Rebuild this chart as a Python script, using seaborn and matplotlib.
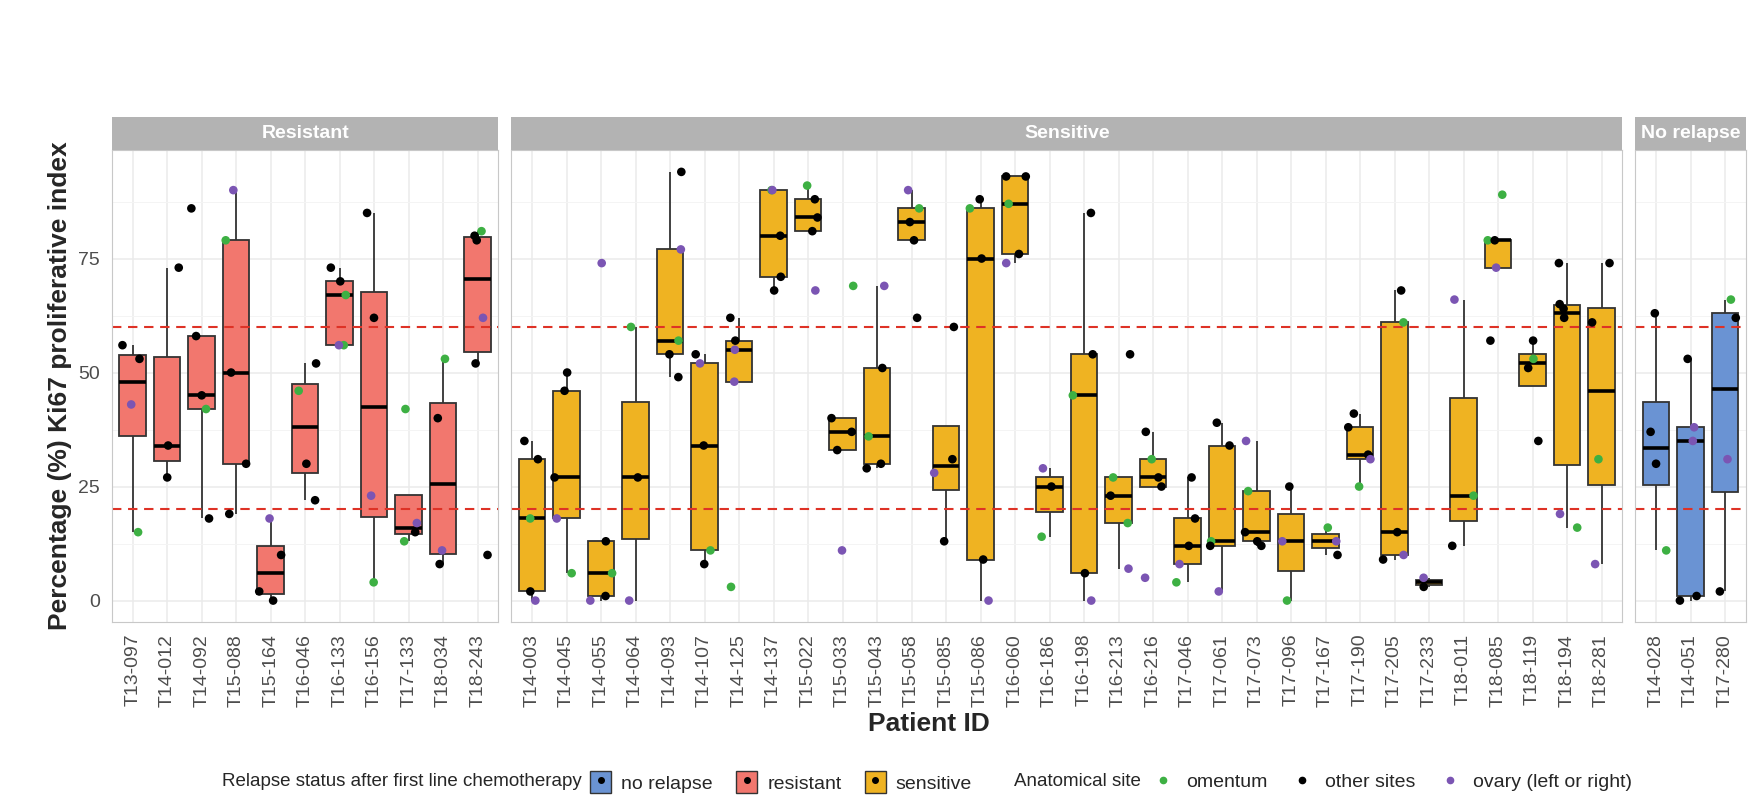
import numpy as np
import pandas as pd
import seaborn as sns
import matplotlib.pyplot as plt
from matplotlib.patches import Patch
from matplotlib.lines import Line2D

# Ki67 values per patient, one list of points per patient
resistant_ids = ["T13-097", "T14-012", "T14-092", "T15-088", "T15-164", "T16-046",
                 "T16-133", "T16-156", "T17-133", "T18-034", "T18-243"]
resistant_values = [[56, 53, 43, 15], [73, 34, 27], [86, 58, 45, 42, 18], [90, 79, 50, 30, 19],
                    [18, 10, 2, 0], [52, 46, 30, 22], [73, 70, 67, 56, 56], [85, 62, 23, 4],
                    [42, 17, 15, 13], [53, 40, 11, 8], [81, 80, 79, 62, 52, 10]]
resistant_sites = [["ot", "ot", "ov", "om"], ["ot", "ot", "ot"], ["ot", "ot", "ot", "om", "ot"],
                   ["ov", "om", "ot", "ot", "ot"], ["ov", "ot", "ot", "ot"], ["ot", "om", "ot", "ot"],
                   ["ot", "ot", "om", "om", "ov"], ["ot", "ot", "ov", "om"], ["om", "ov", "ot", "om"],
                   ["om", "ot", "ov", "ot"], ["om", "ot", "ot", "ov", "ot", "ot"]]

sensitive_ids = ["T14-003", "T14-045", "T14-055", "T14-064", "T14-093", "T14-107", "T14-125",
                 "T14-137", "T15-022", "T15-033", "T15-043", "T15-058", "T15-085", "T15-086",
                 "T16-060", "T16-186", "T16-198", "T16-213", "T16-216", "T17-046", "T17-061",
                 "T17-073", "T17-096", "T17-167", "T17-190", "T17-205", "T17-233", "T18-011",
                 "T18-085", "T18-119", "T18-194", "T18-281"]
sensitive_values = [[35, 31, 18, 2, 0], [50, 46, 27, 18, 6], [74, 13, 6, 1, 0], [60, 27, 0],
                    [94, 77, 57, 54, 49], [54, 52, 34, 11, 8], [62, 57, 55, 48, 3],
                    [90, 90, 80, 71, 68], [91, 88, 84, 81, 68], [69, 40, 37, 33, 11],
                    [69, 51, 36, 30, 29], [90, 86, 83, 79, 62], [60, 31, 28, 13],
                    [88, 86, 75, 9, 0], [93, 93, 87, 76, 74], [29, 25, 14], [85, 54, 45, 6, 0],
                    [54, 27, 23, 17, 7], [37, 31, 27, 25, 5], [27, 18, 12, 8, 4],
                    [39, 34, 13, 12, 2], [35, 24, 15, 13, 12], [25, 13, 0], [16, 13, 10],
                    [41, 38, 32, 31, 25], [68, 61, 15, 10, 9], [5, 3], [66, 23, 12],
                    [89, 79, 79, 73, 57], [57, 53, 51, 35], [74, 65, 64, 62, 19, 16],
                    [74, 61, 31, 8]]
sensitive_sites = [["ot", "ot", "om", "ot", "ov"], ["ot", "ot", "ot", "ov", "om"],
                   ["ov", "ot", "om", "ot", "ov"], ["om", "ot", "ov"],
                   ["ot", "ov", "om", "ot", "ot"], ["ot", "ov", "ot", "om", "ot"],
                   ["ot", "ot", "ov", "ov", "om"], ["om", "ov", "ot", "ot", "ot"],
                   ["om", "ot", "ot", "ot", "ov"], ["om", "ot", "ot", "ot", "ov"],
                   ["ov", "ot", "om", "ot", "ot"], ["ov", "om", "ot", "ot", "ot"],
                   ["ot", "ot", "ov", "ot"], ["ot", "om", "ot", "ot", "ov"],
                   ["ot", "ot", "om", "ot", "ov"], ["ov", "ot", "om"],
                   ["ot", "ot", "om", "ot", "ov"], ["ot", "om", "ot", "om", "ov"],
                   ["ot", "om", "ot", "ot", "ov"], ["ot", "ot", "ot", "ov", "om"],
                   ["ot", "ot", "om", "ot", "ov"], ["ov", "om", "ot", "ot", "ot"],
                   ["ot", "ov", "om"], ["om", "ov", "ot"], ["ot", "ot", "ot", "ov", "om"],
                   ["ot", "om", "ot", "ov", "ot"], ["ov", "ot"], ["ov", "om", "ot"],
                   ["om", "om", "ot", "ov", "ot"], ["ot", "om", "ot", "ot"],
                   ["ot", "ot", "ot", "ot", "ov", "om"], ["ot", "ot", "om", "ov"]]

norelapse_ids = ["T14-028", "T14-051", "T17-280"]
norelapse_values = [[63, 37, 30, 11], [53, 38, 35, 1, 0], [66, 62, 31, 2]]
norelapse_sites = [["ot", "ot", "ot", "om"], ["ot", "ov", "ov", "ot", "ot"],
                   ["om", "ot", "ov", "ot"]]

site_names = {"om": "omentum", "ot": "other sites", "ov": "ovary (left or right)"}
site_colors = {"omentum": "#3DB043", "other sites": "#000000", "ovary (left or right)": "#7B55B3"}
status_colors = {"no relapse": "#6A93D3", "resistant": "#F2776E", "sensitive": "#EFB322"}


def to_frame(ids, values, sites):
    rows = []
    for pid, vals, sts in zip(ids, values, sites):
        for v, s in zip(vals, sts):
            rows.append({"patient": pid, "ki67": v, "site": site_names[s]})
    return pd.DataFrame(rows)


panels = [
    ("Resistant", resistant_ids, to_frame(resistant_ids, resistant_values, resistant_sites),
     status_colors["resistant"]),
    ("Sensitive", sensitive_ids, to_frame(sensitive_ids, sensitive_values, sensitive_sites),
     status_colors["sensitive"]),
    ("No relapse", norelapse_ids, to_frame(norelapse_ids, norelapse_values, norelapse_sites),
     status_colors["no relapse"]),
]

sns.set_style("white")
plt.rcParams["font.family"] = ["Liberation Sans", "DejaVu Sans"]
np.random.seed(7)

W, H = 1756, 808
fig = plt.figure(figsize=(W / 100, H / 100), dpi=100)

# panel geometry in pixels (facet_grid with free x space)
unit = 34.5
gap = 13
x_left = 112
top, bottom = 150, 622
strip_h = 33

x = x_left
for i, (title, ids, df, fill) in enumerate(panels):
    n = len(ids)
    w = (n + 0.2) * unit
    ax = fig.add_axes([x / W, 1 - bottom / H, w / W, (bottom - top) / H])

    sns.boxplot(data=df, x="patient", y="ki67", order=ids, color=fill, saturation=1,
                width=0.77, showfliers=False, linecolor="#333333", linewidth=1.3,
                medianprops={"color": "black", "linewidth": 2.6},
                capprops={"visible": False}, ax=ax, zorder=2)
    for hl in (20, 60):
        ax.axhline(hl, color="#DE3226", lw=1.5, ls=(0, (4.5, 3.2)), zorder=2.5)
    sns.stripplot(data=df, x="patient", y="ki67", order=ids, hue="site",
                  hue_order=list(site_colors), palette=site_colors, jitter=0.35,
                  size=6.2, linewidth=0, legend=False, ax=ax, zorder=3)

    ax.set_xlim(-0.6, n - 0.4)
    ax.set_ylim(-4.7, 98.8)
    ax.set_yticks([0, 25, 50, 75])
    ax.set_yticks([12.5, 37.5, 62.5, 87.5], minor=True)
    ax.grid(True, which="major", color="#EBEBEB", lw=1.1, zorder=0)
    ax.grid(True, which="minor", axis="y", color="#F4F4F4", lw=0.7, zorder=0)
    ax.set_axisbelow(True)
    for sp in ax.spines.values():
        sp.set_color("#C8C8C8")
        sp.set_linewidth(0.8)
    ax.tick_params(axis="both", which="major", length=4, color="#555555",
                   labelcolor="#4D4D4D", labelsize=14, pad=4.5)
    ax.tick_params(axis="y", which="minor", length=0)
    ax.set_xticks(range(n))
    ax.set_xticklabels(ids, rotation=90)
    if i > 0:
        ax.tick_params(axis="y", labelleft=False, length=0)
    ax.set_xlabel("")
    ax.set_ylabel("")

    # facet strip
    sax = fig.add_axes([x / W, 1 - top / H, w / W, strip_h / H])
    sax.set_facecolor("#B3B3B3")
    sax.set_xticks([])
    sax.set_yticks([])
    for sp in sax.spines.values():
        sp.set_visible(False)
    sax.text(0.5, 0.5, title, color="white", fontsize=14, fontweight="bold",
             ha="center", va="center", transform=sax.transAxes)

    x += w + gap

fig.text(60 / W, 1 - (top + bottom) / 2 / H, "Percentage (%) Ki67 proliferative index",
         rotation=90, ha="center", va="center", fontsize=19, fontweight="bold")
fig.text((x_left + x - gap) / 2 / W, 1 - 724 / H, "Patient ID",
         ha="center", va="center", fontsize=19, fontweight="bold")

# legends along the bottom
leg_y = 1 - 782 / H
fig.text(222 / W, leg_y, "Relapse status after first line chemotherapy",
         ha="left", va="center", fontsize=13.5)
box_handles = [(Patch(facecolor=c, edgecolor="#333333", lw=1.0),
                Line2D([], [], marker="o", color="black", ls="", ms=4))
               for c in status_colors.values()]
fig.legend(box_handles, list(status_colors), loc="center left",
           bbox_to_anchor=(590 / W, leg_y), ncol=3, frameon=False, fontsize=14,
           handlelength=1.1, handleheight=1.3, handletextpad=0.5, columnspacing=1.2,
           borderpad=0, borderaxespad=0)

fig.text(1014 / W, leg_y, "Anatomical site", ha="left", va="center", fontsize=13.5)
dot_handles = [Line2D([], [], marker="o", color=c, ls="", ms=4.5) for c in site_colors.values()]
fig.legend(dot_handles, list(site_colors), loc="center left",
           bbox_to_anchor=(1151 / W, leg_y), ncol=3, frameon=False, fontsize=14,
           handlelength=1.2, handletextpad=0.6, columnspacing=1.16,
           borderpad=0, borderaxespad=0)

fig.savefig("out.png", dpi=100, facecolor="white")
